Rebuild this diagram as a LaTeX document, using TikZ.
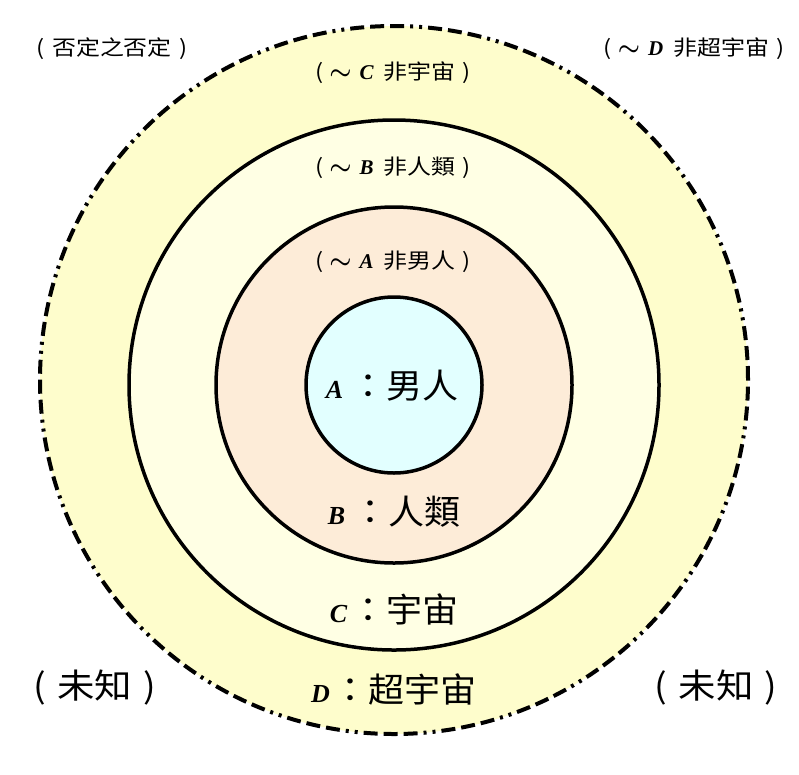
\documentclass[tikz,border=0pt]{standalone}
\usepackage{fontspec}
\setmainfont{Liberation Serif}
\newfontfamily\cjks[FakeStretch=1.14]{Noto Sans CJK TC}
\newfontfamily\cjkb[FakeStretch=1.06]{Noto Sans CJK TC}
\newfontfamily\cjku[FakeStretch=1.1]{Noto Sans CJK TC}
\definecolor{ringD}{RGB}{254,253,204}
\definecolor{ringC}{RGB}{255,255,228}
\definecolor{ringB}{RGB}{253,236,216}
\definecolor{ringA}{RGB}{226,255,255}
\newcommand{\ltr}[2]{{\rmfamily\bfseries\itshape\fontsize{#1}{#1}\selectfont #2}}
\newcommand{\tld}{{\fontsize{23}{23}\selectfont\boldmath$\sim$}}
\newcommand{\neglbl}[1]{(\hspace{6pt}\tld\hspace{8pt}\ltr{21}{#1}\hspace{10pt}}
\begin{document}
\begin{tikzpicture}[x=1pt,y=-1pt,
  ring/.style={circle,draw=black,line width=3.5pt,inner sep=0pt},
  outerring/.style={circle,draw=black,line width=4pt,inner sep=0pt,
    dash pattern=on 14pt off 6pt on 14pt off 6pt on 14pt off 6pt on 3pt off 6pt on 3pt off 6pt},
  smalllbl/.style={inner sep=0pt,font=\cjks\fontsize{21}{23}\selectfont},
  biglbl/.style={inner sep=0pt,font=\cjkb\fontsize{34}{36}\selectfont},
  unklbl/.style={inner sep=0pt,font=\cjku\fontsize{34}{36}\selectfont}]
\useasboundingbox (0,0) rectangle (799,774);
\fill[white] (0,0) rectangle (799,774);
\node[outerring,fill=ringD,minimum size=708pt] (D) at (394,380) {};
\node[ring,fill=ringC,minimum size=530pt] (C) at (394,385) {};
\node[ring,fill=ringB,minimum size=356pt] (B) at (394,385) {};
\node[ring,fill=ringA,minimum size=176pt] (A) at (394,385) {};
% small labels
\node[smalllbl] (neg) at (112,49) {(\hspace{8pt}否定之否定\hspace{8pt})};
\node[smalllbl] (notD) at (694,49) {\neglbl{D}非超宇宙\hspace{7pt})};
\node[smalllbl] (notC) at (393,73) {\neglbl{C}非宇宙\hspace{7pt})};
\node[smalllbl] (notB) at (393,168) {\neglbl{B}非人類\hspace{7pt})};
\node[smalllbl] (notA) at (393,262) {\neglbl{A}非男人\hspace{7pt})};
% big labels
\node[biglbl] (labA) at (392,386) {\ltr{26}{A}\hspace{7pt}：男人};
\node[biglbl] (labB) at (394,512) {\ltr{26}{B}\hspace{7pt}：人類};
\node[biglbl] (labC) at (394,609) {\ltr{26}{C}\hspace{3pt}：宇宙};
\node[biglbl] (labD) at (394,689) {\ltr{26}{D}\hspace{3pt}：超宇宙};
\node[unklbl] (unkL) at (95,688) {(\hspace{11pt}未知\hspace{11pt})};
\node[unklbl] (unkR) at (716,688) {(\hspace{11pt}未知\hspace{11pt})};
\end{tikzpicture}
\end{document}
